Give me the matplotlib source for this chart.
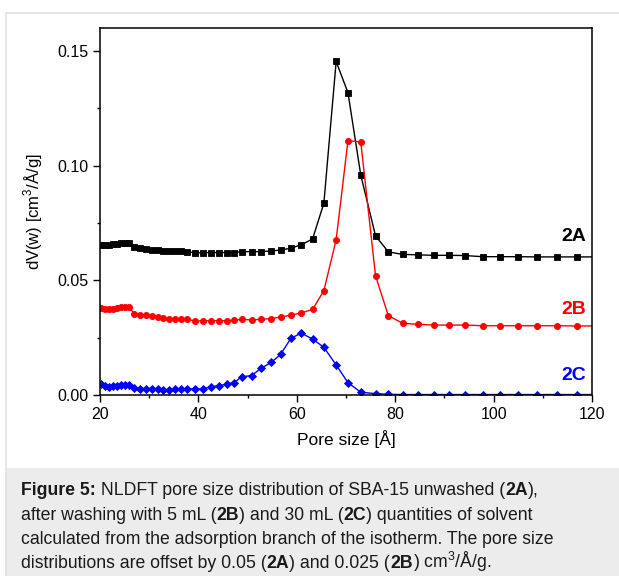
import matplotlib
matplotlib.use("Agg")
import matplotlib.pyplot as plt
from matplotlib.patches import Rectangle
from matplotlib.lines import Line2D

plt.rcParams['font.family'] = ['Liberation Sans', 'DejaVu Sans']
plt.rcParams['mathtext.fontset'] = 'custom'
plt.rcParams['mathtext.rm'] = 'Liberation Sans'

# pore size grid (Å)
pore = [20.2, 21.0, 21.8, 22.6, 23.5, 24.3, 25.1, 25.8, 27.0, 28.2,
        29.4, 30.6, 31.8, 32.9, 34.0, 35.2, 36.5, 37.7, 39.3, 40.9,
        42.5, 44.1, 45.8, 47.3, 48.8, 50.8, 52.7, 54.8, 56.7, 58.8,
        60.9, 63.2, 65.5, 68.0, 70.4, 73.0, 76.0, 78.6, 81.5, 84.6,
        87.8, 91.0, 94.1, 97.8, 101.4, 104.9, 108.9, 112.9, 116.9, 121.0]

# 2A (offset +0.05)
dv_2a = [0.0656, 0.0655, 0.0655, 0.0657, 0.0659, 0.0661, 0.0662, 0.0664, 0.0644, 0.0640,
         0.0637, 0.0634, 0.0630, 0.0627, 0.0626, 0.0626, 0.0626, 0.0625, 0.0620, 0.0620,
         0.0621, 0.0621, 0.0621, 0.0621, 0.0625, 0.0625, 0.0625, 0.0628, 0.0632, 0.0640,
         0.0655, 0.0680, 0.0836, 0.1454, 0.1318, 0.0959, 0.0694, 0.0624, 0.0613, 0.0611,
         0.0609, 0.0609, 0.0608, 0.0603, 0.0603, 0.0603, 0.0602, 0.0602, 0.0602, 0.0602]

# 2B (offset +0.025)
dv_2b = [0.0378, 0.0375, 0.0375, 0.0376, 0.0379, 0.0382, 0.0385, 0.0385, 0.0355, 0.0350,
         0.0348, 0.0345, 0.0339, 0.0334, 0.0333, 0.0331, 0.0331, 0.0330, 0.0323, 0.0323,
         0.0324, 0.0324, 0.0324, 0.0326, 0.0330, 0.0327, 0.0330, 0.0333, 0.0340, 0.0348,
         0.0358, 0.0373, 0.0455, 0.0677, 0.1109, 0.1103, 0.0520, 0.0346, 0.0313, 0.0308,
         0.0305, 0.0305, 0.0305, 0.0302, 0.0302, 0.0302, 0.0302, 0.0302, 0.0301, 0.0301]

# 2C
dv_2c = [0.0047, 0.0039, 0.0036, 0.0039, 0.0041, 0.0044, 0.0045, 0.0044, 0.0031, 0.0028,
         0.0028, 0.0028, 0.0025, 0.0022, 0.0023, 0.0026, 0.0028, 0.0028, 0.0025, 0.0028,
         0.0035, 0.0041, 0.0047, 0.0054, 0.0080, 0.0084, 0.0116, 0.0142, 0.0177, 0.0247,
         0.0270, 0.0244, 0.0208, 0.0131, 0.0054, 0.0012, 0.0006, 0.0003, 0.0002, 0.0002,
         0.0002, 0.0002, 0.0002, 0.0002, 0.0002, 0.0002, 0.0002, 0.0002, 0.0002, 0.0002]

labels = ['2A', '2B', '2C']
label_y = [0.069, 0.0374, 0.0083]
colors = ['black', '#ff0000', '#0000ff']
markers = ['s', 'o', 'D']

# caption lines as (text, bold) pieces
caption = [
    [("Figure 5:", True), (" NLDFT pore size distribution of SBA-15 unwashed (", False),
     ("2A", True), ("),", False)],
    [("after washing with 5 mL (", False), ("2B", True), (") and 30 mL (", False),
     ("2C", True), (") quantities of solvent", False)],
    [("calculated from the adsorption branch of the isotherm. The pore size", False)],
    [("distributions are offset by 0.05 (", False), ("2A", True), (") and 0.025 (", False),
     ("2B", True), (") cm$^3$/Å/g.", False)],
]

fig = plt.figure(figsize=(6.19, 5.76), dpi=100)
W, H = 619, 576

# outer frame and caption box
fig.add_artist(Rectangle((6 / W, 0), 1 - 6 / W, (H - 468) / H, transform=fig.transFigure,
                         facecolor='#ececec', edgecolor='none'))
fig.add_artist(Line2D([6 / W, 1], [1 - 13 / H, 1 - 13 / H], transform=fig.transFigure,
                      color='#e2e2e2', lw=1.2))
fig.add_artist(Line2D([6 / W, 6 / W], [0, 1 - 13 / H], transform=fig.transFigure,
                      color='#e2e2e2', lw=1.2))

ax = fig.add_axes([100 / W, (H - 395) / H, 492 / W, 367 / H])
for y, c, m in zip([dv_2a, dv_2b, dv_2c], colors, markers):
    ax.plot(pore, y, color=c, marker=m, lw=1.0, ms=4.4 if m != 'D' else 4.2,
            markeredgewidth=0.6)
for lab, ly, c in zip(labels, label_y, colors):
    ax.text(118.8, ly, lab, color=c, fontsize=14, fontweight='bold', ha='right', va='center')

ax.set_xlim(20, 120)
ax.set_ylim(0, 0.16)
ax.set_xticks([20, 40, 60, 80, 100, 120])
ax.set_xticks([30, 50, 70, 90, 110], minor=True)
ax.set_yticks([0.0, 0.05, 0.10, 0.15])
ax.set_yticklabels(['0.00', '0.05', '0.10', '0.15'])
ax.set_yticks([0.025, 0.075, 0.125], minor=True)
ax.tick_params(which='major', direction='out', length=5, width=1.0, labelsize=11.5)
ax.tick_params(which='minor', direction='out', length=2.5, width=1.0)
for s in ax.spines.values():
    s.set_linewidth(1.1)
ax.set_xlabel('Pore size [Å]', fontsize=12.5, labelpad=6)
ax.set_ylabel('dV(w) [cm$^3$/Å/g]', fontsize=12, labelpad=9)

# caption, piece by piece
renderer = fig.canvas.get_renderer()
line_y = 495
for pieces in caption:
    x = 21
    for txt, bold in pieces:
        t = fig.text(x / W, 1 - line_y / H, txt, fontsize=12.7, ha='left', va='baseline',
                     fontweight='bold' if bold else 'normal', color='#1a1a1a')
        x += t.get_window_extent(renderer).width
    line_y += 24.5

fig.savefig('out.png', dpi=100)
